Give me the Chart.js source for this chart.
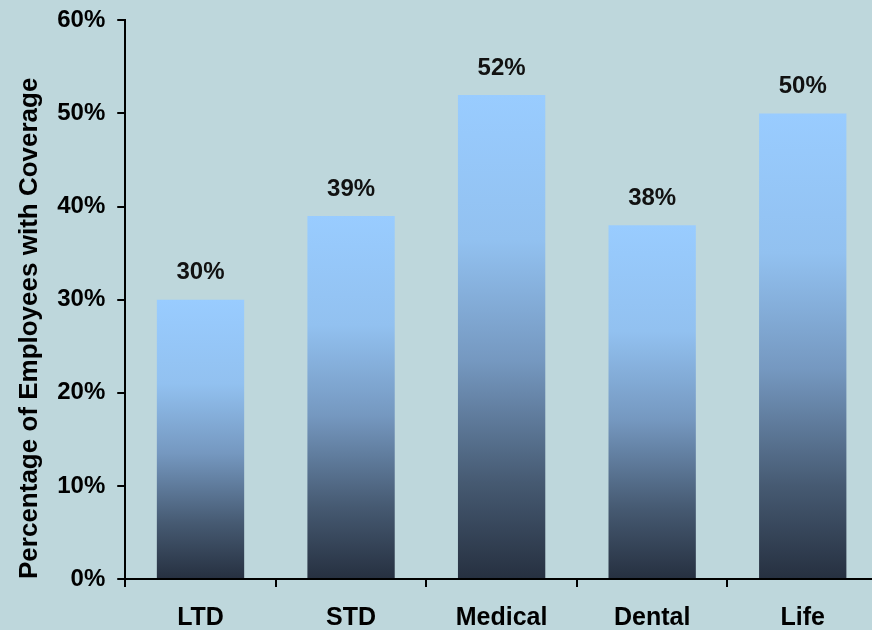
<!DOCTYPE html>
<html>
<head>
<meta charset="utf-8">
<script src="https://cdn.jsdelivr.net/npm/chart.js@4"></script>
<style>
    html, body { margin: 0; padding: 0; background: #BED7DC; overflow: hidden; }
    #wrap { width: 880px; height: 630px; }
</style>
</head>
<body>
<div id="wrap"><canvas id="coverageChart"></canvas></div>
<script>
// 資料
const categories = ['LTD', 'STD', 'Medical', 'Dental', 'Life'];
const coverageValues = [30, 39, 52, 38, 50];
const yTicks = [0, 10, 20, 30, 40, 50, 60];

const FONT = "'Liberation Sans', Arial, sans-serif";

// 每根長條各自的垂直漸層（上淺藍、下深灰藍）
function barGradient(context) {
    const chart = context.chart;
    if (!chart.chartArea) return '#99CCFF';
    const y = chart.scales.y;
    const top = y.getPixelForValue(context.raw);
    const bottom = y.getPixelForValue(0);
    const g = chart.ctx.createLinearGradient(0, top, 0, bottom);
    g.addColorStop(0, '#99CCFF');
    g.addColorStop(0.3, '#92C1F0');
    g.addColorStop(0.55, '#7598C0');
    g.addColorStop(0.8, '#465A72');
    g.addColorStop(1, '#263040');
    return g;
}

// 長條上方的數值標籤
const valueLabels = {
    id: 'valueLabels',
    afterDatasetsDraw(chart) {
        const ctx = chart.ctx;
        const meta = chart.getDatasetMeta(0);
        ctx.save();
        ctx.font = 'bold 24px ' + FONT;
        ctx.fillStyle = '#111';
        ctx.textAlign = 'center';
        ctx.textBaseline = 'middle';
        meta.data.forEach(function (bar, i) {
            ctx.fillText(coverageValues[i] + '%', bar.x, bar.y - 27);
        });
        ctx.restore();
    }
};

new Chart(document.getElementById('coverageChart'), {
    type: 'bar',
    data: {
        labels: categories,
        datasets: [{
            data: coverageValues,
            backgroundColor: barGradient,
            borderWidth: 0,
            barPercentage: 0.58,
            categoryPercentage: 1
        }]
    },
    options: {
        responsive: true,
        maintainAspectRatio: false,
        animation: false,
        layout: { padding: { top: 0, left: 14, right: 2, bottom: -19 } },
        plugins: {
            legend: { display: false },
            tooltip: { enabled: false }
        },
        scales: {
            y: {
                min: 0,
                max: 60,
                afterBuildTicks: function (axis) {
                    axis.ticks = yTicks.map(function (v) { return { value: v }; });
                },
                ticks: {
                    color: '#000',
                    padding: 12,
                    font: { family: FONT, size: 24, weight: 'bold', lineHeight: 0.7 },
                    callback: function (value) { return value + '%'; }
                },
                grid: {
                    drawOnChartArea: false,
                    drawTicks: true,
                    tickLength: 8,
                    color: '#000',
                    lineWidth: 2
                },
                border: { display: true, color: '#000', width: 2 },
                title: {
                    display: true,
                    align: 'start',
                    text: 'Percentage of Employees with Coverage',
                    color: '#000',
                    padding: { top: 0, bottom: 0 },
                    font: { family: FONT, size: 26, weight: 'bold' }
                }
            },
            x: {
                offset: true,
                ticks: {
                    color: '#000',
                    padding: 16,
                    font: { family: FONT, size: 25, weight: 'bold' }
                },
                grid: {
                    offset: true,
                    drawOnChartArea: false,
                    drawTicks: true,
                    tickLength: 8,
                    color: '#000',
                    lineWidth: 2
                },
                border: { display: true, color: '#000', width: 2 }
            }
        }
    },
    plugins: [valueLabels]
});
</script>
</body>
</html>
